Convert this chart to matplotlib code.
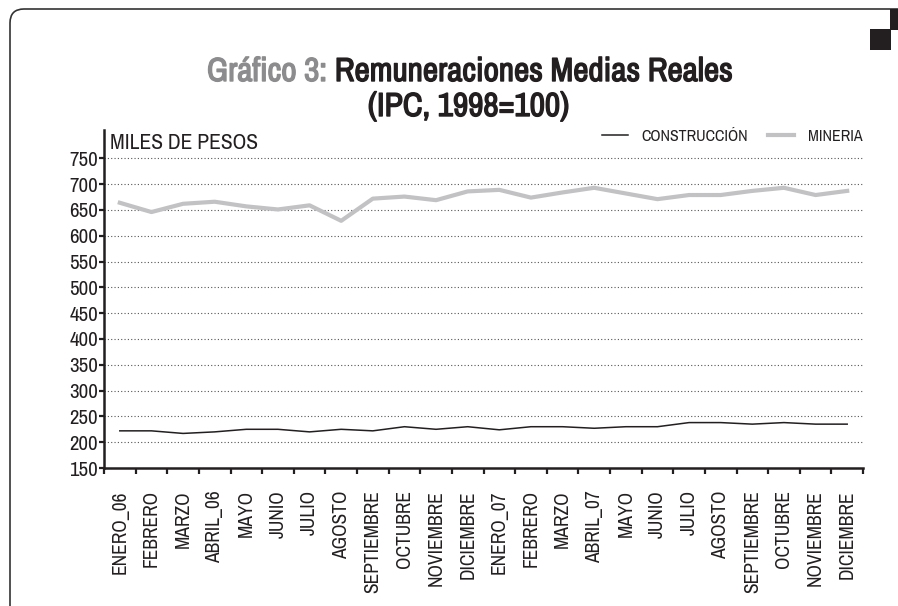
import matplotlib.pyplot as plt
from matplotlib import font_manager
from matplotlib import patheffects as pe
from matplotlib.patches import FancyBboxPatch, Rectangle
from matplotlib.ticker import FixedLocator

meses = ['ENERO_06', 'FEBRERO', 'MARZO', 'ABRIL_06', 'MAYO', 'JUNIO', 'JULIO',
         'AGOSTO', 'SEPTIEMBRE', 'OCTUBRE', 'NOVIEMBRE', 'DICIEMBRE', 'ENERO_07',
         'FEBRERO', 'MARZO', 'ABRIL_07', 'MAYO', 'JUNIO', 'JULIO', 'AGOSTO',
         'SEPTIEMBRE', 'OCTUBRE', 'NOVIEMBRE', 'DICIEMBRE']
construccion = [222, 222, 217, 220, 225, 225, 220, 225, 222, 230, 225, 230,
                224, 230, 230, 227, 230, 230, 238, 238, 235, 238, 235, 235]
mineria = [664, 646, 662, 666, 657, 651, 659, 629, 672, 676, 669, 686,
           689, 674, 684, 693, 682, 671, 679, 679, 687, 693, 679, 687]
y_ticks = [150, 200, 250, 300, 350, 400, 450, 500, 550, 600, 650, 700, 750]


def weight_of(f):
    w = f.weight
    if isinstance(w, str):
        w = font_manager.weight_dict.get(w, 400)
    return w


# pick a condensed family if one is installed, otherwise Roboto
entries = font_manager.fontManager.ttflist
names = sorted({f.name for f in entries})
cond = [n for n in names if 'Condensed' in n or 'Narrow' in n]
weights = ['Bold', 'Black', 'Light', 'Thin', 'Medium', 'Semi', 'Extra']
plain = [n for n in cond if not any(w in n for w in weights)]
fam = plain[0] if plain else (cond[0] if cond else 'Roboto')
heavy = [n for n in cond if 'Black' in n] + [n for n in cond if 'Bold' in n]
has_bold = any(f.name == fam and weight_of(f) >= 600 for f in entries)
if heavy:
    title_fam, title_fx = heavy[0], []
elif has_bold:
    title_fam, title_fx = fam, []
else:
    title_fam = fam
    title_fx = None  # fake bold with a stroke below

plt.rcParams['font.family'] = [fam, 'DejaVu Sans']
dark = '#231f20'
grey_t = '#8c8c8e'

fig = plt.figure(figsize=(8.98, 6.06), dpi=100)
W, H = 898, 606

# frame (top + left with rounded corner) and the black marks at the top right
frame = FancyBboxPatch((10, -100), 1000, H - 9 + 100,
                       boxstyle='round,pad=0,rounding_size=14',
                       transform=None, fill=False, edgecolor='#333333', lw=1.2)
fig.patches.append(frame)
fig.patches.append(Rectangle((890, H - 30), 8, 21, transform=None,
                             facecolor=dark, edgecolor='none'))
fig.patches.append(Rectangle((870, H - 50), 21, 21, transform=None,
                             facecolor=dark, edgecolor='none'))

ax = fig.add_axes([104 / W, 1 - 468 / H, (863 - 104) / W, (468 - 130) / H])
x = list(range(len(meses)))
ax.plot(x, construccion, color=dark, lw=1.1, label='CONSTRUCCIÓN')
ax.plot(x, mineria, color='#c2c2c4', lw=3, label='MINERIA')

ax.set_xlim(-0.5, len(meses) - 0.5)
ax.set_ylim(150, 805)
ax.set_yticks(y_ticks)
ax.set_xticks(x)
ax.set_xticklabels(meses, rotation=90, fontsize=14, color=dark)
ax.xaxis.set_minor_locator(FixedLocator([i - 0.5 for i in range(len(meses) + 1)]))
ax.tick_params(axis='x', which='major', length=0, pad=16)
ax.tick_params(axis='x', which='minor', length=4.3, width=1.6, color=dark)
ax.tick_params(axis='y', length=3.6, width=1.6, color=dark, labelsize=15,
               labelcolor=dark, pad=0.8)

for y in y_ticks[1:]:
    ax.axhline(y, color='#555555', lw=0.8, ls=(0, (1, 2)), zorder=0)

for s in ['top', 'right']:
    ax.spines[s].set_visible(False)
for s in ['left', 'bottom']:
    ax.spines[s].set_linewidth(1.8)
    ax.spines[s].set_color(dark)

ax.text(0.008, 0.963, 'MILES DE PESOS', transform=ax.transAxes, fontsize=15.5,
        color=dark, va='center', ha='left')
ax.legend(loc='center right', bbox_to_anchor=(1.008, 0.982), ncol=2,
          frameon=False, fontsize=11.5, handlelength=1.65, columnspacing=1.25,
          handletextpad=0.85, labelcolor=dark, borderaxespad=0)


def fx(col):
    if title_fx is None:
        return [pe.withStroke(linewidth=1.0, foreground=col)]
    return title_fx


# title: grey prefix + black rest, centred together
tkw = dict(fontsize=24, fontweight='bold', family=[title_fam, 'DejaVu Sans'],
           va='center', ha='left')
t1 = fig.text(0, 1 - 72 / H, 'Gráfico 3: ', color=grey_t,
              path_effects=fx(grey_t), **tkw)
t2 = fig.text(0, 1 - 72 / H, 'Remuneraciones Medias Reales', color=dark,
              path_effects=fx(dark), **tkw)
r = fig.canvas.get_renderer()
w1 = t1.get_window_extent(r).width
w2 = t2.get_window_extent(r).width
x0 = 470 - (w1 + w2) / 2
t1.set_x(x0 / W)
t2.set_x((x0 + w1) / W)
tkw['ha'] = 'center'
fig.text(469 / W, 1 - 107 / H, '(IPC, 1998=100)', color=dark,
         path_effects=fx(dark), **tkw)

fig.savefig('out.png', dpi=100)
